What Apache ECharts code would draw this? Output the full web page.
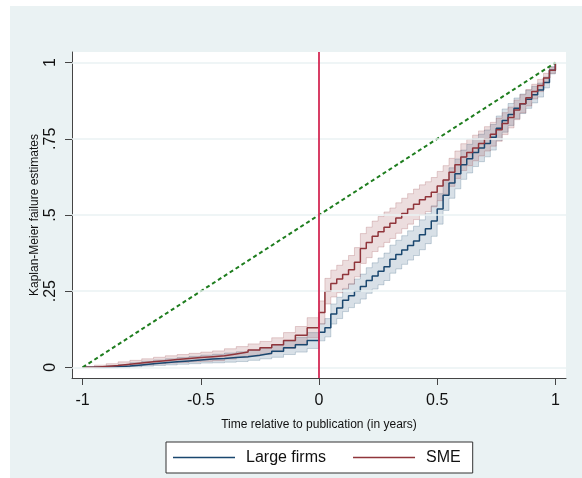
<!DOCTYPE html>
<html>
<head>
<meta charset="utf-8">
<script src="https://cdn.jsdelivr.net/npm/echarts@6/dist/echarts.min.js"></script>
<style>
  html, body { margin: 0; padding: 0; background: #ffffff; }
  #c { position: absolute; left: 10px; top: 6px; width: 572px; height: 472px; background: #EAF2F3; }
</style>
</head>
<body>
<div id="c"></div>
<script>
// ---- data ----
const times = [-1, -0.95, -0.9, -0.85, -0.8, -0.75, -0.7, -0.65, -0.6, -0.55, -0.5, -0.45, -0.4, -0.35, -0.3, -0.25, -0.2, -0.15, -0.1, -0.05, 0,
  0.025, 0.05, 0.075, 0.1, 0.125, 0.15, 0.175, 0.2, 0.225, 0.25, 0.275, 0.3, 0.325, 0.35, 0.375, 0.4, 0.425, 0.45, 0.475, 0.5,
  0.525, 0.55, 0.575, 0.6, 0.625, 0.65, 0.675, 0.7, 0.725, 0.75, 0.775, 0.8, 0.825, 0.85, 0.875, 0.9, 0.925, 0.95, 0.975, 1];

const largeFirms = [0, 0, 0.002, 0.004, 0.008, 0.012, 0.015, 0.018, 0.021, 0.024, 0.027, 0.029, 0.032, 0.035, 0.040, 0.046, 0.053, 0.064, 0.074, 0.088, 0.115,
  0.13, 0.175, 0.195, 0.22, 0.235, 0.25, 0.265, 0.285, 0.30, 0.315, 0.33, 0.355, 0.37, 0.385, 0.40, 0.415, 0.435, 0.455, 0.48, 0.52,
  0.565, 0.605, 0.635, 0.665, 0.685, 0.705, 0.72, 0.735, 0.755, 0.785, 0.81, 0.83, 0.85, 0.865, 0.88, 0.895, 0.91, 0.935, 0.975, 1.0];

const sme = [0, 0.003, 0.006, 0.01, 0.014, 0.018, 0.022, 0.026, 0.029, 0.032, 0.035, 0.038, 0.044, 0.05, 0.057, 0.064, 0.074, 0.088, 0.105, 0.13, 0.18,
  0.25, 0.275, 0.29, 0.305, 0.32, 0.345, 0.39, 0.41, 0.43, 0.445, 0.46, 0.473, 0.49, 0.505, 0.52, 0.535, 0.55, 0.56, 0.575, 0.595,
  0.615, 0.64, 0.665, 0.69, 0.705, 0.72, 0.735, 0.75, 0.765, 0.78, 0.80, 0.82, 0.845, 0.865, 0.885, 0.905, 0.925, 0.95, 0.975, 1.0];

// half-width of the 95% confidence band
const largeFirmsCI = [0, 0.002, 0.004, 0.005, 0.007, 0.008, 0.009, 0.01, 0.011, 0.012, 0.013, 0.014, 0.015, 0.016, 0.017, 0.018, 0.02, 0.022, 0.024, 0.026, 0.028,
  0.03, 0.033, 0.035, 0.037, 0.039, 0.04, 0.041, 0.042, 0.043, 0.044, 0.045, 0.046, 0.047, 0.047, 0.048, 0.048, 0.049, 0.049, 0.05, 0.05,
  0.05, 0.05, 0.049, 0.048, 0.047, 0.046, 0.045, 0.044, 0.042, 0.04, 0.038, 0.036, 0.034, 0.032, 0.03, 0.027, 0.023, 0.018, 0.012, 0];

const smeCI = [0, 0.004, 0.006, 0.008, 0.009, 0.01, 0.011, 0.012, 0.013, 0.014, 0.015, 0.016, 0.017, 0.018, 0.02, 0.021, 0.023, 0.026, 0.029, 0.033, 0.038,
  0.042, 0.044, 0.045, 0.046, 0.047, 0.048, 0.049, 0.05, 0.05, 0.05, 0.05, 0.05, 0.05, 0.05, 0.05, 0.05,
  0.049, 0.049, 0.048, 0.048, 0.047, 0.046, 0.045, 0.044, 0.043, 0.042, 0.041, 0.04, 0.039, 0.038, 0.036, 0.034, 0.032, 0.03, 0.027, 0.024, 0.02, 0.015, 0.01, 0];

const refX = [-1, 1];
const refY = [0, 1];

const xTicks = [-1, -0.5, 0, 0.5, 1];
const xTickLabels = ['-1', '-0.5', '0', '0.5', '1'];
const yTicks = [0, 0.25, 0.5, 0.75, 1];
const yTickLabels = ['0', '.25', '.5', '.75', '1'];

const publicationTime = 0;

// ---- build ----
const FONT = "'Liberation Sans', Arial, sans-serif";
const NAVY = '#1A476F';
const MAROON = '#90353B';

const pairs = (ys) => times.map((t, i) => [t, ys[i]]);

// confidence band drawn as one step-shaped polygon through the axes' scales
function band(name, ys, hw, rgb) {
  const rows = times.map((t, i) => [t, ys[i] - hw[i], ys[i] + hw[i]]);
  return {
    name: name, type: 'custom', z: 2, silent: true,
    data: rows,
    encode: { x: 0, y: [1, 2] },
    renderItem: function (params, api) {
      if (params.dataIndex !== 0) return null;
      const up = [], lo = [];
      for (let i = 0; i < rows.length; i++) {
        const r = rows[i];
        const nx = i < rows.length - 1 ? rows[i + 1][0] : r[0];
        up.push(api.coord([r[0], r[2]]));
        up.push(api.coord([nx, r[2]]));
        lo.push(api.coord([r[0], r[1]]));
        lo.push(api.coord([nx, r[1]]));
      }
      const poly = up.concat(lo.slice().reverse());
      return {
        type: 'group',
        children: [
          { type: 'polygon', shape: { points: poly }, style: { fill: 'rgba(' + rgb + ',0.17)', stroke: null } },
          { type: 'polyline', shape: { points: up }, style: { fill: null, stroke: 'rgba(' + rgb + ',0.22)', lineWidth: 1 } },
          { type: 'polyline', shape: { points: lo }, style: { fill: null, stroke: 'rgba(' + rgb + ',0.22)', lineWidth: 1 } }
        ]
      };
    }
  };
}

const chart = echarts.init(document.getElementById('c'), null, { renderer: 'canvas' });

chart.setOption({
  animation: false,
  backgroundColor: '#EAF2F3',
  textStyle: { fontFamily: FONT },
  grid: { left: 62, right: 16, top: 46, bottom: 100, show: true, backgroundColor: '#ffffff', borderWidth: 0 },
  legend: {
    data: ['Large firms', 'SME'],
    left: 156, top: 436,
    backgroundColor: '#ffffff', borderColor: '#333333', borderWidth: 1,
    padding: [6, 12, 6, 7],
    icon: 'rect',
    itemWidth: 62, itemHeight: 1.6, itemGap: 27,
    textStyle: { fontSize: 16, fontFamily: FONT, color: '#111', padding: [0, 0, 0, 6], lineHeight: 19 }
  },
  xAxis: {
    type: 'value', min: -1.045, max: 1.045,
    name: 'Time relative to publication (in years)',
    nameLocation: 'middle', nameGap: 41, nameMoveOverlap: false,
    nameTextStyle: { fontSize: 12, color: '#111', fontFamily: FONT },
    axisLine: { show: true, onZero: false, lineStyle: { color: '#444', width: 1 } },
    axisTick: { show: true, length: 7, customValues: xTicks, lineStyle: { color: '#444' } },
    axisLabel: {
      customValues: xTicks, margin: 15, fontSize: 16, color: '#111', fontFamily: FONT,
      formatter: (v) => { const i = xTicks.findIndex(t => Math.abs(t - v) < 1e-9); return i >= 0 ? xTickLabels[i] : ''; }
    },
    splitLine: { show: false }
  },
  yAxis: {
    type: 'value', min: -0.035, max: 1.035,
    name: 'Kaplan-Meier failure estimates',
    nameLocation: 'middle', nameGap: 31, nameRotate: 90, nameMoveOverlap: false,
    nameTextStyle: { fontSize: 12, color: '#111', fontFamily: FONT },
    axisLine: { show: true, onZero: false, lineStyle: { color: '#444', width: 1 } },
    axisTick: { show: true, length: 7, customValues: yTicks, lineStyle: { color: '#444' } },
    axisLabel: {
      customValues: yTicks, margin: 13, rotate: 90, fontSize: 16, color: '#111', fontFamily: FONT,
      formatter: (v) => { const i = yTicks.findIndex(t => Math.abs(t - v) < 1e-9); return i >= 0 ? yTickLabels[i] : ''; }
    },
    splitLine: { show: false }
  },
  series: [
    {
      name: 'grid', type: 'line', data: [], z: 1, silent: true,
      markLine: {
        silent: true, symbol: 'none', label: { show: false },
        lineStyle: { color: '#EAF2F3', width: 1.5, type: 'solid' },
        data: yTicks.map(v => ({ yAxis: v }))
      }
    },
    band('lfBand', largeFirms, largeFirmsCI, '26,71,111'),
    band('smBand', sme, smeCI, '144,53,59'),
    {
      name: 'Large firms', type: 'line', step: 'end', symbol: 'none', z: 3,
      lineStyle: { color: NAVY, width: 1.5 }, itemStyle: { color: NAVY },
      data: pairs(largeFirms)
    },
    {
      name: 'SME', type: 'line', step: 'end', symbol: 'none', z: 3,
      lineStyle: { color: MAROON, width: 1.5 }, itemStyle: { color: MAROON },
      data: pairs(sme)
    },
    {
      name: 'ref', type: 'line', symbol: 'none', z: 4, silent: true,
      lineStyle: { color: '#1E7D1E', width: 2, type: [4, 3] },
      data: refX.map((x, i) => [x, refY[i]]),
      markLine: {
        silent: true, symbol: 'none', label: { show: false },
        lineStyle: { color: '#D42A55', width: 1.8, type: 'solid' },
        data: [{ xAxis: publicationTime }]
      }
    }
  ]
});
</script>
</body>
</html>
